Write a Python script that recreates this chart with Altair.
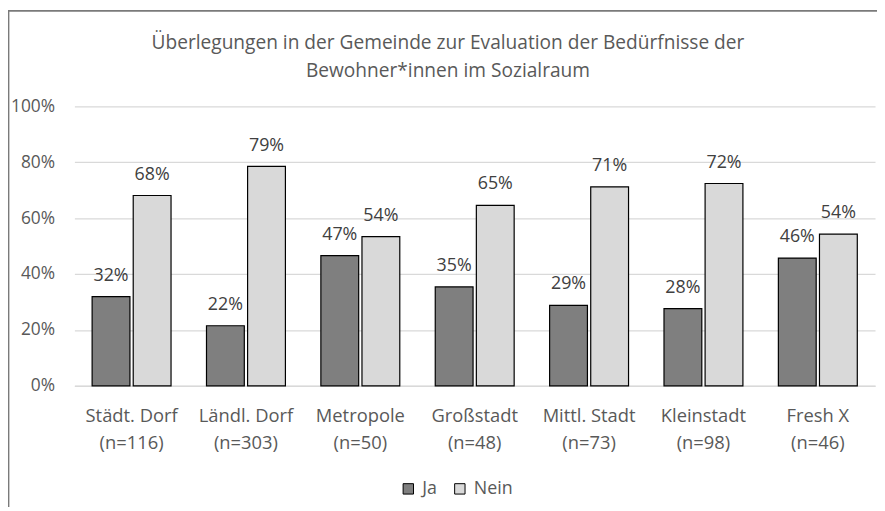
import altair as alt
import pandas as pd

categories = ["Städt. Dorf", "Ländl. Dorf", "Metropole", "Großstadt", "Mittl. Stadt", "Kleinstadt", "Fresh X"]
n_counts = ["(n=116)", "(n=303)", "(n=50)", "(n=48)", "(n=73)", "(n=98)", "(n=46)"]
ja_values = [0.319, 0.215, 0.466, 0.354, 0.288, 0.276, 0.457]
nein_values = [0.681, 0.785, 0.534, 0.646, 0.712, 0.724, 0.543]
ja_labels = ["32%", "22%", "47%", "35%", "29%", "28%", "46%"]
nein_labels = ["68%", "79%", "54%", "65%", "71%", "72%", "54%"]
series = ["Ja", "Nein"]
colors = ["#7f7f7f", "#d9d9d9"]
title_lines = ["Überlegungen in der Gemeinde zur Evaluation der Bedürfnisse der",
               "Bewohner*innen im Sozialraum"]

FONT = "Open Sans"
TXT = "#595959"

rows = []
for i, c in enumerate(categories):
    lab = c + "|" + n_counts[i]
    rows.append({"cat": lab, "serie": "Ja", "value": ja_values[i], "label": ja_labels[i]})
    rows.append({"cat": lab, "serie": "Nein", "value": nein_values[i], "label": nein_labels[i]})
df = pd.DataFrame(rows)
order = [c + "|" + n for c, n in zip(categories, n_counts)]

x = alt.X("cat:N", sort=order, title=None,
          scale=alt.Scale(paddingInner=0.31, paddingOuter=0.155),
          axis=alt.Axis(labelAngle=0, labelExpr="split(datum.label, '|')",
                        labelFontSize=18.5, labelColor=TXT, labelFont=FONT,
                        labelPadding=21, labelLineHeight=27, ticks=False,
                        domainColor="#d9d9d9", domainWidth=1.5, labelBaseline="top"))
xo = alt.XOffset("serie:N", sort=series, scale=alt.Scale(paddingInner=0.08, paddingOuter=0))
y = alt.Y("value:Q", title=None,
          scale=alt.Scale(domain=[0, 1]),
          axis=alt.Axis(values=[0, 0.2, 0.4, 0.6, 0.8, 1.0], format=".0%",
                        labelFontSize=17.5, labelColor=TXT, labelFont=FONT,
                        labelPadding=20, ticks=False, domain=False,
                        gridColor="#d9d9d9", gridWidth=1.3))

base = alt.Chart(df)
bars = base.mark_bar(stroke="#000000", strokeWidth=1.2).encode(
    x=x, xOffset=xo, y=y,
    color=alt.Color("serie:N", sort=series,
                    scale=alt.Scale(domain=series, range=colors),
                    legend=alt.Legend(title=None, orient="none", direction="horizontal",
                                      legendX=328, legendY=377,
                                      symbolType="square", symbolSize=110,
                                      symbolStrokeColor="#000000", symbolStrokeWidth=1,
                                      labelFontSize=18, labelColor=TXT, labelFont=FONT,
                                      columnPadding=14, labelOffset=5)),
)
texts = base.mark_text(baseline="bottom", dy=-12, fontSize=18, font=FONT, color="#404040").encode(
    x=x, xOffset=xo, y=y, text="label:N"
)

frame_df = pd.DataFrame({"k": [0]})
title1 = alt.Chart(frame_df).mark_text(text=title_lines[0], fontSize=19.3, font=FONT, color=TXT,
                                       align="center", baseline="alphabetic").encode(
    x=alt.value(377), y=alt.value(-58)
)
title2 = alt.Chart(frame_df).mark_text(text=title_lines[1], fontSize=19.3, font=FONT, color=TXT,
                                       align="center", baseline="alphabetic").encode(
    x=alt.value(377), y=alt.value(-30)
)
top_border = alt.Chart(frame_df).mark_rule(color="#7a7a7a", strokeWidth=1.8).encode(
    x=alt.value(-67), x2=alt.value(820), y=alt.value(-96.5)
)
left_border = alt.Chart(frame_df).mark_rule(color="#7a7a7a", strokeWidth=1.8).encode(
    x=alt.value(-66.5), y=alt.value(-97), y2=alt.value(420)
)

chart = alt.layer(bars, texts, title1, title2, top_border, left_border).properties(
    width=808, height=282,
    autosize=alt.AutoSizeParams(type="none"),
    padding={"left": 67, "top": 97, "right": 2, "bottom": 120},
).configure_view(stroke=None)

chart.save("out.html", embed_options={"renderer": "svg", "actions": False})
